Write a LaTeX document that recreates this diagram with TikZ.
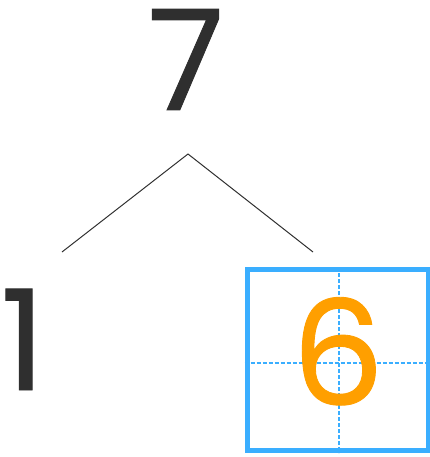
\documentclass[tikz,border=0pt]{standalone}
\usepackage{fontspec}
\newfontfamily\digitfont{Poppins}[FakeBold=0.6]
\definecolor{gridblue}{HTML}{3AAEFF}
\definecolor{digitorange}{HTML}{FF9F00}
\definecolor{ink}{HTML}{2F2F2F}
\begin{document}
\begin{tikzpicture}[x=1pt,y=-1pt,
  digit/.style={inner sep=0pt,anchor=base,font=\fontsize{140}{140}\digitfont},
  branch/.style={draw=ink,line width=1pt},
  gridline/.style={draw=gridblue,line width=1.3pt,dash pattern=on 4pt off 2pt}]
\useasboundingbox (0,0) rectangle (430,457);
\node[digit,text=ink] (seven) at (186,110) {7};
\node[digit,text=ink] (one) at (23,390) {1};
\coordinate (apex) at (188,154);
\coordinate (leftend) at (62,252);
\coordinate (rightend) at (313,252);
\draw[branch] (leftend) -- (apex) -- (rightend);
\node[draw=gridblue,line width=5pt,minimum width=181pt,minimum height=181pt,inner sep=0pt] (box) at (337.5,360) {};
\coordinate (gridc) at (339,363);
\draw[gridline] (box.west |- gridc) -- (box.east |- gridc);
\draw[gridline] (box.north -| gridc) -- (box.south -| gridc);
\node[digit,text=digitorange,font=\fontsize{146}{146}\digitfont] (six) at (338,405) {6};
\end{tikzpicture}
\end{document}
